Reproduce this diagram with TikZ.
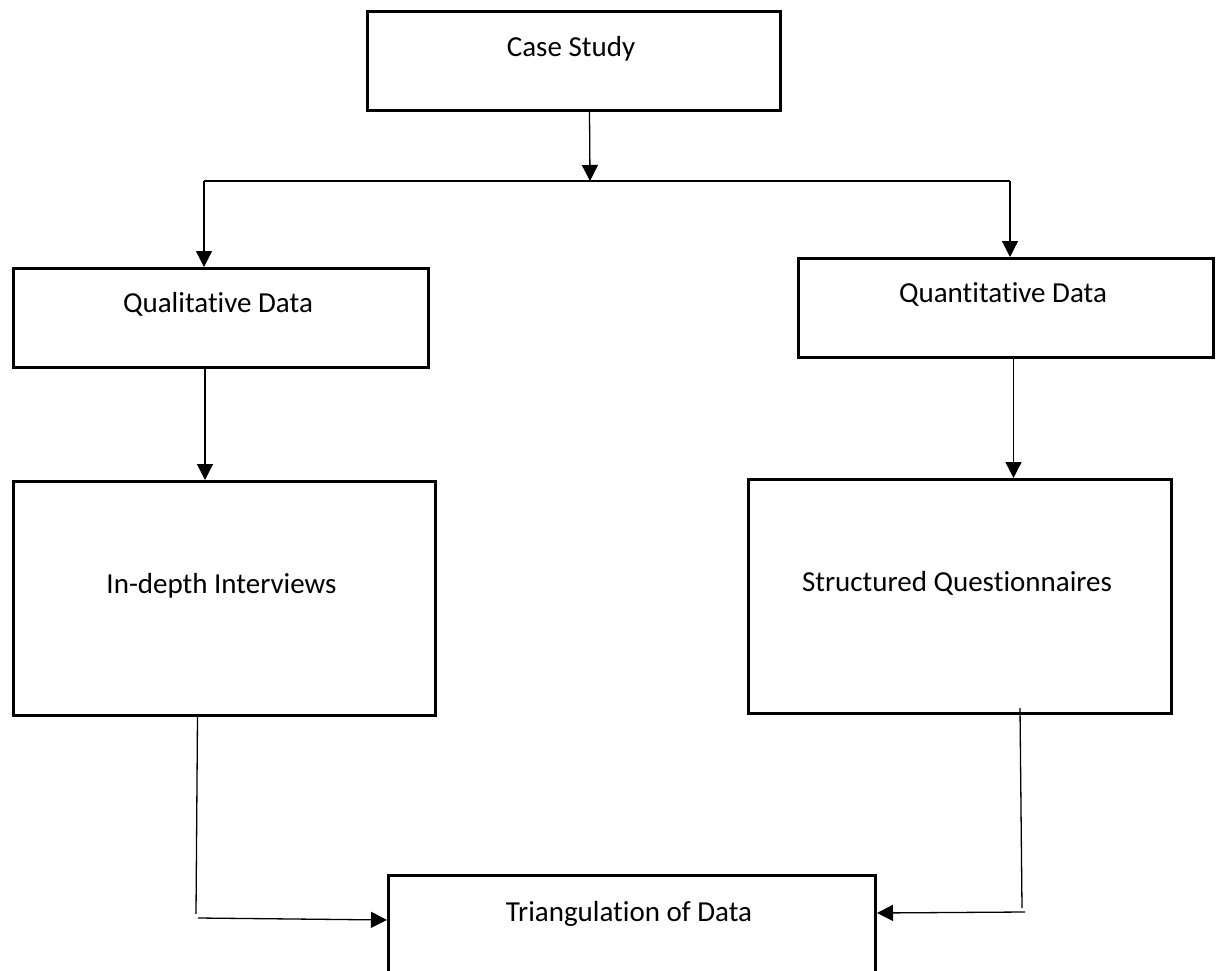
\documentclass[tikz,border=0pt]{standalone}
\usepackage{fontspec}
\setmainfont{Carlito}[Ligatures=NoCommon]
\usetikzlibrary{arrows.meta}

\tikzset{
  box/.style={draw=black, line width=3pt, rectangle, inner sep=0pt, anchor=north west},
  boxtext/.style={anchor=base, font=\fontsize{29}{35}\selectfont, inner sep=0pt},
  link/.style={draw=black, line width=1.3pt},
  arrowlink/.style={link, -{Triangle[length=16pt,width=16pt]}}
}

\begin{document}
\begin{tikzpicture}[x=1pt, y=-1pt]
  \useasboundingbox (0,0) rectangle (1216,971);
  \clip (0,0) rectangle (1216,971);

  % boxes (text baseline measured from the top edge)
  \node[box, minimum width=413pt, minimum height=99pt,
        label={[boxtext, xshift=-3pt, yshift=-47pt]north:Case Study}] (cs) at (366,10) {};
  \node[box, minimum width=415pt, minimum height=99pt,
        label={[boxtext, xshift=-3pt, yshift=-45pt]north:Qualitative Data}] (qual) at (12,267) {};
  \node[box, minimum width=415pt, minimum height=99pt,
        label={[boxtext, xshift=-3pt, yshift=-45pt]north:Quantitative Data}] (quant) at (797,257) {};
  \node[box, minimum width=422pt, minimum height=234pt,
        label={[boxtext, xshift=-3pt, yshift=-113pt]north:In-depth Interviews}] (idi) at (12,480) {};
  \node[box, minimum width=423pt, minimum height=234pt,
        label={[boxtext, xshift=-3pt, yshift=-113pt]north:Structured Questionnaires}] (sq) at (747,478) {};
  \node[box, minimum width=487pt, minimum height=130pt,
        label={[boxtext, xshift=-3pt, yshift=-47pt]north:Triangulation of Data}] (tri) at (387,874) {};

  % branching line below the case study
  \coordinate (split) at (590,181);
  \coordinate (hl) at (204,181);
  \coordinate (hr) at (1010,181);
  \draw[arrowlink] ([xshift=15.5pt]cs.south) -- (split);
  \draw[link] (hl) -- (hr);
  \draw[arrowlink] (hl) -- (hl |- qual.north);
  \draw[arrowlink] (hr) -- (hr |- quant.north);

  % data type to collection method
  \draw[arrowlink] ([xshift=-16pt]qual.south) -- ([xshift=-16pt]qual.south |- idi.north);
  \draw[arrowlink] ([xshift=7.5pt]quant.south) -- ([xshift=7.5pt]quant.south |- sq.north);

  % collection methods into triangulation
  \coordinate (lbend) at (196,914);
  \coordinate (lstart) at (198,918);
  \coordinate (tl) at ([yshift=-46pt]tri.north west);
  \draw[link] ([xshift=-27pt]idi.south) -- (lbend);
  \draw[arrowlink] (lstart) -- (tl);

  \coordinate (rtop) at (1020,708);
  \coordinate (rbend) at (1022,908);
  \coordinate (rstart) at (1025,912);
  \coordinate (tr) at ([yshift=-39pt]tri.north east);
  \draw[link] (rtop) -- (rbend);
  \draw[arrowlink] (rstart) -- (tr);
\end{tikzpicture}
\end{document}
